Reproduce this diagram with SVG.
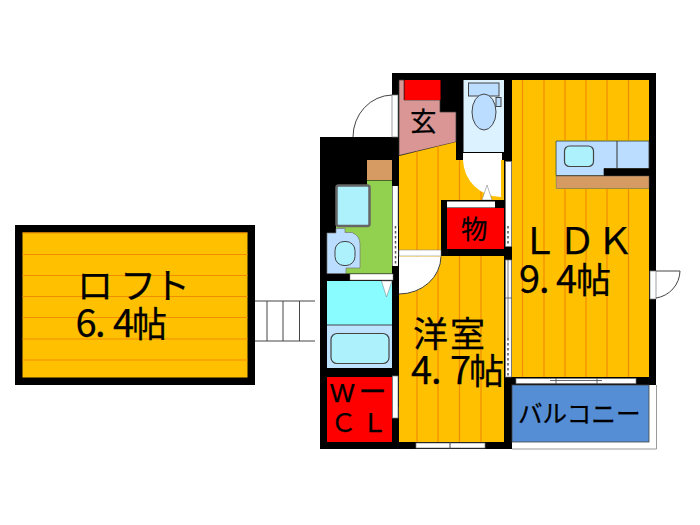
<svg xmlns="http://www.w3.org/2000/svg" width="700" height="525" viewBox="0 0 700 525">
<style>
text{font-family:"Noto Sans CJK JP","Liberation Sans",sans-serif;fill:#000;stroke:#000;stroke-width:.25}
.latin{font-family:"Liberation Sans","Noto Sans CJK JP",sans-serif}
.wall{fill:#000}
.floor{fill:#FFC000}
.grain{stroke:#F28C00;stroke-width:1.200;fill:none}
.red{fill:#F00}
.white{fill:#fff;stroke:#777;stroke-width:.7}
.thin{fill:none;stroke:#444;stroke-width:1}
.fix{fill:#BBDDFF;stroke:#444;stroke-width:1}
.water{fill:#ADF1FC;stroke:#444;stroke-width:1.2}
</style>
<rect width="700" height="525" fill="#fff"/>

<g id="loft">
<rect class="wall" x="15" y="225" width="240" height="160"/>
<rect class="floor" x="22.500" y="232.500" width="225" height="145"/>
<path class="grain" d="M22.500 233H247.500M22.500 254.500H247.500M22.500 275.500H247.500M22.500 296.500H247.500M22.500 317.500H247.500M22.500 339H247.500M22.500 360H247.500"/>
<text font-size="36" x="77 120 154" y="299">ロフト</text>
<text y="337"><tspan font-size="38" x="75.500 95 113">6.4</tspan><tspan font-size="35" x="132">帖</tspan></text>
</g>
<g id="stairs">
<path class="thin" d="M255 301H315M255 341H315M267 301V341M283 301V341M299.500 301V341"/>
</g>

<g id="structure">
<rect class="wall" x="392" y="73" width="264" height="376"/>
<rect class="wall" x="320" y="137" width="80" height="312"/>
<path fill="#fff" d="M649 385H656V449H512V442H649Z"/>
<path d="M512 449H656.500V385" fill="none" stroke="#999" stroke-width="1"/>
</g>

<g id="entrance-door">
<rect class="white" x="392" y="95" width="6" height="42"/>
<path class="thin" d="M392 95A40 42 0 0 0 353 137"/>
</g>

<g id="genkan">
<path fill="#D99694" stroke="#333" stroke-width=".7" d="M399 80H404V100H440V112H456V142L399 155.500Z"/>
<rect class="red" x="404.500" y="80" width="36" height="20"/>
<text font-size="26.500" x="410" y="131">玄</text>
</g>

<g id="wc">
<rect fill="#DDF2FF" x="463.500" y="80" width="40.500" height="72"/>
<rect class="fix" x="468.500" y="83" width="30.500" height="13"/>
<ellipse class="fix" cx="484" cy="112" rx="12" ry="18"/>
<rect class="fix" x="496" y="97.500" width="5" height="9"/>
<rect fill="#fff" x="463" y="153" width="39" height="7"/>
</g>

<g id="hall">
<path class="floor" d="M399 156L456 142V160H504V200H441V250H399Z"/>
<path class="grain" d="M417 151.500V250M438 146.500V250M459.500 160V200M481 160V200"/>
<path fill="#fff" d="M463 160H501V197A38 38 0 0 1 463 160Z"/>
<path fill="#fff" stroke="#777" stroke-width=".5" d="M487 185L492 200H482Z"/>
<rect class="wall" x="456" y="153" width="7" height="7"/>
</g>

<g id="storage">
<rect class="wall" x="441" y="200" width="63" height="56"/>
<rect fill="#fff" x="447" y="201.500" width="48" height="6"/>
<rect class="red" x="447" y="208" width="57" height="41"/>
<text font-size="26.500" x="461" y="238.500">物</text>
</g>

<g id="washroom">
<rect fill="#D69A63" x="367" y="160" width="25" height="20"/>
<path fill="#92D050" d="M367 180.500H392V273.500H346V268H336V185H367Z"/>
<rect x="336.500" y="185.500" width="33" height="40.500" rx="2" fill="#ADF1FC" stroke="#666" stroke-width="2.500"/>
<path fill="#BBDDFF" stroke="#777" stroke-width=".7" d="M336 228.500H345V232.500H352Q360 236 360 244V268H346V273.500H327V233H336Z"/>
<rect x="335" y="241.500" width="20" height="24" rx="9" fill="#ADF1FC" stroke="#444" stroke-width="1"/>
<rect fill="#fff" stroke="#777" stroke-width=".5" x="350" y="274" width="43" height="6"/>
</g>

<g id="bath">
<rect fill="#88FCFF" x="327" y="281" width="65" height="44"/>
<path fill="#fff" stroke="#777" stroke-width=".5" d="M381.500 281H392L386.500 297Z"/>
<rect fill="#BDE3FF" x="327" y="325" width="65" height="43"/>
<path d="M327 325H392" stroke="#444" stroke-width="1"/>
<rect class="water" x="331" y="333.500" width="58" height="30" rx="6"/>
</g>

<g id="wcl">
<rect class="red" x="327" y="377" width="65" height="65"/>
<text y="402"><tspan class="latin" font-size="26" x="330">W</tspan><tspan font-size="28" x="358.500">ー</tspan></text>
<text font-size="26" x="330.500 361.500" y="432">ＣＬ</text>
<rect class="white" x="392.500" y="376" width="5.500" height="42"/>
<path fill="#fff" stroke="#777" stroke-width=".5" d="M399 407L416 412L399 418Z"/>
</g>

<g id="strip">
<rect fill="#fff" x="392.500" y="186" width="5.500" height="80"/>
<path d="M395.500 226V266" stroke="#555" stroke-width="1.500" stroke-dasharray="2.500 2.500"/>
<path d="M392.500 186V226M398 186V226" stroke="#777" stroke-width=".6"/>
</g>

<g id="western-room">
<rect class="floor" x="399" y="256" width="105" height="186"/>
<path class="grain" d="M417 256V442M438 256V442M459.500 256V442M481 256V442"/>
<rect fill="#fff" stroke="#777" stroke-width=".5" x="399" y="250" width="42" height="6"/>
<path fill="#fff" d="M399 256.500H441A42 38 0 0 1 399 294Z"/>
<path d="M399 294A42 38 0 0 0 441 256.500" class="thin"/>
<rect class="white" x="416" y="443" width="69" height="5"/>
<path d="M450 442V449" stroke="#444" stroke-width="1"/>
<text font-size="35" x="413 450" y="347">洋室</text>
<text y="384"><tspan font-size="38" x="411 431 450">4.7</tspan><tspan font-size="35" x="469">帖</tspan></text>
</g>

<g id="ldk">
<rect class="floor" x="512" y="80" width="137" height="297"/>
<path class="grain" d="M522.500 80V377M544 80V377M565 80V377M586 80V377M607 80V377M628.500 80V377"/>
<rect x="555" y="140" width="94" height="49" fill="#FFE000"/>
<path fill="#BBDDFF" stroke="#333" stroke-width=".8" d="M556 141H649V168.500H604V175.500H556Z"/>
<path d="M617 141V168" stroke="#333" stroke-width="1"/>
<rect x="604" y="168.500" width="45" height="8" fill="#000"/>
<rect x="556" y="176" width="93" height="12.500" fill="#D69A63" stroke="#555" stroke-width=".5"/>
<rect class="water" x="564.500" y="146" width="29" height="20.500" rx="5"/>
<text font-size="37" x="521 558.500 596.500" y="254">ＬＤＫ</text>
<text y="293"><tspan font-size="38" x="519 539 556">9.4</tspan><tspan font-size="35" x="576">帖</tspan></text>
</g>

<g id="sliding-door">
<rect class="white" x="505.500" y="161.500" width="6" height="85"/>
<rect class="white" x="505.500" y="260" width="6" height="117"/>
<path d="M508 226V246M508 338V376" stroke="#555" stroke-width="1.500" stroke-dasharray="2.500 2.500" fill="none"/>
<path d="M505 298H512M508 260V338" stroke="#555" stroke-width=".8"/>
</g>

<g id="balcony">
<rect fill="#558ED5" stroke="#444" stroke-width=".8" x="512" y="385" width="137" height="57"/>
<rect class="white" x="516" y="378.500" width="120" height="5"/>
<path d="M550 380.500H602M556 378V384M597 378V384" stroke="#444" stroke-width=".8" fill="none"/>
<text font-size="24.600" x="518" y="423">バルコニー</text>
</g>

<g id="balcony-door">
<rect class="white" x="650" y="271" width="6" height="28"/>
<path class="thin" d="M656 271H680A28 28 0 0 1 656 298"/>
</g>
</svg>
